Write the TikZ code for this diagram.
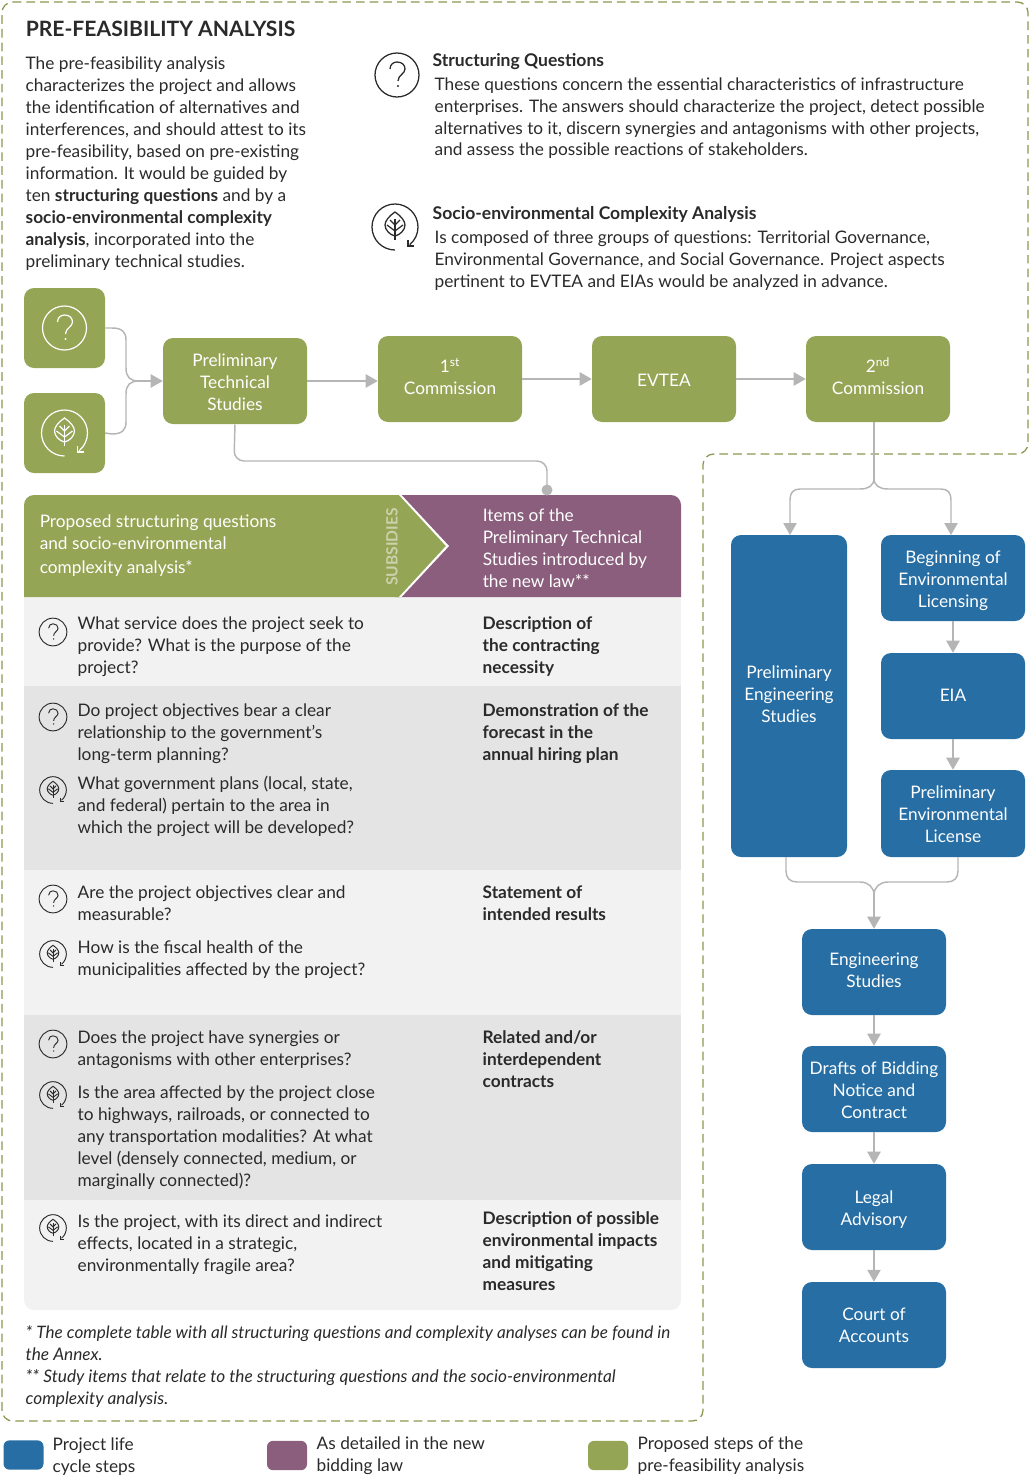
\documentclass[tikz,border=0pt]{standalone}
\usepackage{fontspec}
\setmainfont{Lato}
\usetikzlibrary{arrows.meta,calc}
\definecolor{pgreen}{HTML}{94A555}
\definecolor{ppurple}{HTML}{8A5E7C}
\definecolor{pblue}{HTML}{266EA4}
\definecolor{pgray}{HTML}{B5B5B5}
\definecolor{ptext}{HTML}{2A2A2A}
\definecolor{rowa}{HTML}{F2F2F2}
\definecolor{rowb}{HTML}{E4E4E4}
\newcommand{\bodyfont}{\fontsize{12.95}{16.5}\selectfont}
\tikzset{
  txt/.style={anchor=north west,inner sep=0pt,align=left,text=ptext,font=\bodyfont},
  stepbox/.style={rounded corners=7.5pt,minimum width=108pt,minimum height=64.5pt,inner sep=0pt},
  boxtxt/.style={inner sep=0pt,align=center,text=white,font=\bodyfont},
  greenbox/.style={stepbox,fill=pgreen},
  bluebox/.style={stepbox,fill=pblue},
  iconbox/.style={rounded corners=7.5pt,fill=pgreen,minimum width=60.75pt,minimum height=60pt,inner sep=0pt},
  flow/.style={draw=pgray,line width=1.1pt,rounded corners=7.5pt},
  arrowflow/.style={flow,-{Triangle[length=9pt,width=10pt,fill=pgray]}},
  legendbox/.style={rounded corners=4.5pt,minimum width=30pt,minimum height=22pt,inner sep=0pt},
}
% #1 name, #2 x, #3 first baseline y, #4 text
\newcommand{\tb}[4]{\node[txt] (#1) at (#2-0.6,#3-15.4) {\strut #4};}
% question icon: #1 x, #2 y, #3 scale, #4 colour, #5 width
\newcommand{\qicon}[5]{\begin{scope}[shift={(#1,#2)},scale=#3,draw=#4,line width=#5]
  \draw (0,0) circle[radius=22];
  \draw (-7,-6) .. controls (-7,-11) and (-3,-13) .. (0,-13) .. controls (5,-13) and (8,-10) .. (8,-6) .. controls (8,-1) and (1,0) .. (1,6);
  \fill[#4] (1,11) circle[radius=1.1];
\end{scope}}
\newcommand{\licon}[5]{\begin{scope}[shift={(#1,#2)},scale=#3,draw=#4,line width=#5]
  \draw (0,23) arc[start angle=90,end angle=410,radius=23];
  \draw (13,13) -- (13,19) -- (19,19);
  \draw (0,-15) .. controls (6,-11) and (10,-6) .. (10,-2) .. controls (10,3) and (5,8) .. (0,9) .. controls (-5,8) and (-10,3) .. (-10,-2) .. controls (-10,-6) and (-6,-11) .. (0,-15) -- cycle;
  \draw (0,-8) -- (0,13);
  \draw (-5,-7) -- (0,-2) -- (5,-7);
  \draw (-8,-2) -- (0,4) -- (8,-2);
\end{scope}}
\begin{document}
\begin{tikzpicture}[x=0.75pt,y=-0.75pt]
\useasboundingbox (0,0) rectangle (1030,1477);
% dashed border
\draw[pgreen!92!black,line width=0.95pt,dash pattern=on 6.5pt off 3.8pt,rounded corners=8pt]
  (2,2) -- (1028,2) -- (1028,454) -- (703,454) -- (703,1421) -- (2,1421) -- cycle;
% heading
\node[txt,font=\fontsize{15.85}{20}\selectfont\bfseries] (title) at (25.5,20.5) {PRE-FEASIBILITY ANALYSIS};
\tb{intro}{26}{69}{The pre-feasibility analysis\\characterizes the project and allows\\the identification of alternatives and\\interferences, and should attest to its\\pre-feasibility, based on pre-existing\\information. It would be guided by\\ten \textbf{structuring questions} and by a\\\textbf{socio-environmental complexity}\\\textbf{analysis}, incorporated into the\\preliminary technical studies.}
\qicon{397}{75}{1}{ptext}{0.95pt}
\tb{sqh}{433}{66}{\fontsize{13.15}{16.5}\selectfont\textbf{Structuring Questions}}
\tb{sqb}{435}{90}{These questions concern the essential characteristics of infrastructure\\enterprises. The answers should characterize the project, detect possible\\alternatives to it, discern synergies and antagonisms with other projects,\\[-0.6pt]and assess the possible reactions of stakeholders.}
\licon{395}{227}{1}{ptext}{0.95pt}
\tb{seh}{433}{219}{\fontsize{13.15}{16.5}\selectfont\textbf{Socio-environmental Complexity Analysis}}
\tb{seb}{435}{243}{Is composed of three groups of questions: Territorial Governance,\\Environmental Governance, and Social Governance. Project aspects\\pertinent to EVTEA and EIAs would be analyzed in advance.}
% top flow
\node[iconbox] (qbox) at (64.5,328) {};
\node[iconbox] (lbox) at (64.5,433) {};
\qicon{64.5}{328}{1}{white}{0.9pt}
\licon{64.5}{433}{1}{white}{0.9pt}
\node[greenbox] (pts) at (235,381) {};
\node[boxtxt] (ptst) at (235,382) {Preliminary\\Technical\\Studies};
\node[greenbox] (c1) at (450,379) {};
\node[boxtxt] (c1t) at (450,376.5) {1\textsuperscript{st}\\Commission};
\node[greenbox] (evtea) at (664,379) {};
\node[boxtxt] (evteat) at (664,380) {EVTEA};
\node[greenbox] (c2) at (878,379) {};
\node[boxtxt] (c2t) at (878,376.5) {2\textsuperscript{nd}\\Commission};
\coordinate (join) at ($(pts.west)+(-28,0)$);
\draw[flow,rounded corners=0pt] (qbox.east) -- (112,328) .. controls (122,328) and (126,332) .. (126,340) -- (126,368) .. controls (126,377) and (130,381) .. (139,381);
\draw[flow,rounded corners=0pt] (lbox.east) -- (112,434) .. controls (122,434) and (126,430) .. (126,422) -- (126,394) .. controls (126,385) and (130,381) .. (139,381);
\draw[arrowflow] (join) -- (pts.west);
\draw[arrowflow] (pts.east) -- (pts.east -| c1.west);
\draw[arrowflow] (c1.east) -- (evtea.west);
\draw[arrowflow] (evtea.east) -- (c2.west);
% table
\fill[rowa] (24,597) rectangle (681,686);
\fill[rowb] (24,686) rectangle (681,870);
\fill[rowa] (24,870) rectangle (681,1015);
\fill[rowb] (24,1015) rectangle (681,1200);
\fill[rowa] (24,1200) -- (24,1300) .. controls (24,1305.5) and (28.5,1310) .. (34,1310) -- (671,1310) .. controls (676.5,1310) and (681,1305.5) .. (681,1300) -- (681,1200) -- cycle;
\fill[ppurple] (395,597) -- (681,597) -- (681,505) .. controls (681,499.5) and (676.5,495) .. (671,495) -- (395,495) -- cycle;
\fill[pgreen] (24,597) -- (24,505) .. controls (24,499.5) and (28.5,495) .. (34,495) -- (400,495) -- (447,546) -- (400,597) -- cycle;
\fill[white] (399,495) -- (401.5,495) -- (449,546) -- (401.5,597) -- (399,597) -- (446,546) -- cycle;
\node[coordinate] (dotc) at (547,490) {};
\fill[pgray] (dotc) circle[radius=5.5];
\draw[flow] (pts.south) -- (234,461) -- (547,461) -- (dotc);
\node[txt,text=white] (hl) at (39.5,512) {\strut Proposed structuring questions\\\strut and socio-environmental\\[1.2pt]\strut complexity analysis*};
\node[text=pgreen!50!white,rotate=90,inner sep=0pt,font=\fontsize{11.7}{14}\selectfont\bfseries] (sub) at (392,547) {SUBSIDIES};
\node[txt,text=white] (hr) at (482.5,506) {\strut Items of the\\Preliminary Technical\\Studies introduced by\\the new law**};
% row 1
\qicon{53}{632}{0.63}{ptext}{0.7pt}
\tb{r1a}{78}{629}{What service does the project seek to\\provide? What is the purpose of the\\project?}
\tb{r1b}{483}{629}{\textbf{Description of}\\\textbf{the contracting}\\\textbf{necessity}}
% row 2
\qicon{53}{717}{0.63}{ptext}{0.7pt}
\tb{r2a}{78}{716}{Do project objectives bear a clear\\relationship to the government's\\long-term planning?}
\licon{53}{790}{0.58}{ptext}{0.7pt}
\tb{r2c}{78}{789}{What government plans (local, state,\\and federal) pertain to the area in\\which the project will be developed?}
\tb{r2b}{483}{716}{\textbf{Demonstration of the}\\\textbf{forecast in the}\\\textbf{annual hiring plan}}
% row 3
\qicon{53}{899}{0.63}{ptext}{0.7pt}
\tb{r3a}{78}{898}{Are the project objectives clear and\\measurable?}
\licon{53}{954}{0.58}{ptext}{0.7pt}
\tb{r3c}{78}{953}{How is the fiscal health of the\\municipalities affected by the project?}
\tb{r3b}{483}{898}{\textbf{Statement of}\\\textbf{intended results}}
% row 4
\qicon{53}{1044}{0.63}{ptext}{0.7pt}
\tb{r4a}{78}{1043}{Does the project have synergies or\\antagonisms with other enterprises?}
\licon{53}{1095}{0.58}{ptext}{0.7pt}
\tb{r4c}{78}{1098}{Is the area affected by the project close\\to highways, railroads, or connected to\\any transportation modalities? At what\\level (densely connected, medium, or\\marginally connected)?}
\tb{r4b}{483}{1043}{\textbf{Related and/or}\\\textbf{interdependent}\\\textbf{contracts}}
% row 5
\licon{53}{1228}{0.58}{ptext}{0.7pt}
\tb{r5a}{78}{1227}{Is the project, with its direct and indirect\\effects, located in a strategic,\\environmentally fragile area?}
\tb{r5b}{483}{1224}{\textbf{Description of possible}\\\textbf{environmental impacts}\\\textbf{and mitigating}\\\textbf{measures}}
% footnotes
\tb{foot}{26}{1338}{\fontsize{12.83}{16.5}\selectfont\itshape * The complete table with all structuring questions and complexity analyses can be found in\\\itshape the Annex.\\\itshape ** Study items that relate to the structuring questions and the socio-environmental\\\itshape complexity analysis.}
% right column
\node[bluebox,minimum width=87pt,minimum height=241.5pt] (pes) at (789,696) {};
\node[boxtxt] (pest) at (789,694) {Preliminary\\Engineering\\Studies};
\node[bluebox] (beg) at (953,578) {};
\node[boxtxt] (begt) at (953,581) {Beginning of\\Environmental\\Licensing};
\node[bluebox] (eia) at (953,696) {};
\node[boxtxt] (eiat) at (953,695) {EIA};
\node[bluebox,minimum height=65.25pt] (pel) at (953,813.5) {};
\node[boxtxt] (pelt) at (953,814.5) {Preliminary\\Environmental\\License};
\node[bluebox] (eng) at (874,972) {};
\node[boxtxt] (engt) at (874,970) {Engineering\\Studies};
\node[bluebox] (drafts) at (874,1089) {};
\node[boxtxt] (draftst) at (874,1090) {Drafts of Bidding\\Notice and\\Contract};
\node[bluebox] (legal) at (874,1207) {};
\node[boxtxt] (legalt) at (874,1210) {Legal\\Advisory};
\node[bluebox] (court) at (874,1325) {};
\node[boxtxt] (courtt) at (874,1325) {Court of\\Accounts};
\coordinate (forkc) at (874,478);
\coordinate (mergec) at (874,895);
\draw[flow,rounded corners=0pt] (c2.south -| forkc) -- (forkc);
\draw[arrowflow,rounded corners=0pt] (forkc) .. controls (874,486) and (868,489) .. (860,489) -- (800,489) .. controls (793,489) and (790,493) .. (790,500) -- (790,535);
\draw[arrowflow,rounded corners=0pt] (forkc) .. controls (874,486) and (880,489) .. (888,489) -- (941,489) .. controls (948,489) and (951,493) .. (951,500) -- (951,535);
\draw[arrowflow] (beg.south) -- (eia.north);
\draw[arrowflow] (eia.south) -- (pel.north);
\draw[flow,rounded corners=0pt] (786,857) -- (786,871) .. controls (786,878) and (790,882) .. (797,882) -- (860,882) .. controls (868,882) and (874,887) .. (mergec);
\draw[flow,rounded corners=0pt] (958,857) -- (958,871) .. controls (958,878) and (954,882) .. (947,882) -- (888,882) .. controls (880,882) and (874,887) .. (mergec);
\draw[arrowflow] (mergec) -- (eng.north);
\draw[arrowflow] (eng.south) -- (drafts.north);
\draw[arrowflow] (drafts.south) -- (legal.north);
\draw[arrowflow] (legal.south) -- (court.north);
% legend
\node[legendbox,fill=pblue] (lg1) at (23.5,1455) {};
\tb{lt1}{53}{1450}{Project life\\cycle steps}
\node[legendbox,fill=ppurple] (lg2) at (287,1455.5) {};
\tb{lt2}{317}{1449}{As detailed in the new\\bidding law}
\node[legendbox,fill=pgreen] (lg3) at (608,1455.5) {};
\tb{lt3}{638}{1449}{Proposed steps of the\\pre-feasibility analysis}
\end{tikzpicture}
\end{document}
